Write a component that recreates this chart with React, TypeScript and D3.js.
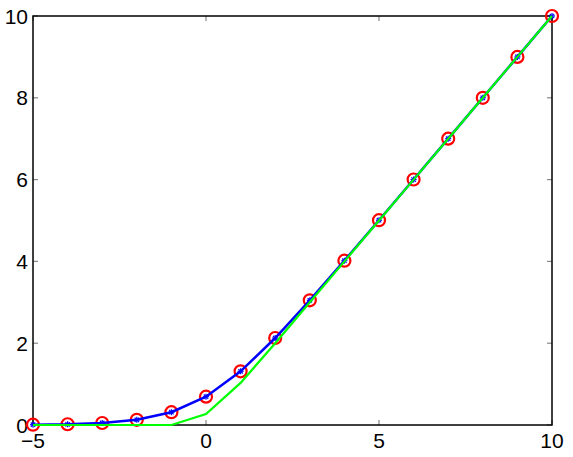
import React from "react";
import * as d3 from "d3";

const xs = [-5, -4, -3, -2, -1, 0, 1, 2, 3, 4, 5, 6, 7, 8, 9, 10];
const softValues = [0.007, 0.018, 0.049, 0.127, 0.313, 0.693, 1.313, 2.127, 3.049, 4.018, 5.007, 6.002, 7.001, 8.0, 9.0, 10.0];
const reluValues = [0, 0, 0, 0, 0, 0.27, 1.03, 2.0, 3.0, 4.0, 5.0, 6.0, 7.0, 8.0, 9.0, 10.0];
const xTicks = [-5, 0, 5, 10];
const yTicks = [0, 2, 4, 6, 8, 10];

const W = 573, H = 457;
const M = { left: 33, right: 21, top: 16, bottom: 32 };

export default function App() {
  const x = d3.scaleLinear().domain([-5, 10]).range([M.left, W - M.right]);
  const y = d3.scaleLinear().domain([0, 10]).range([H - M.bottom, M.top]);
  const line = d3.line<[number, number]>().x(d => x(d[0])).y(d => y(d[1]));
  const soft: [number, number][] = xs.map((v, i) => [v, softValues[i]]);
  const relu: [number, number][] = xs.map((v, i) => [v, reluValues[i]]);
  const x0 = x(-5), x1 = x(10), y0 = y(0), y1 = y(10);
  const tl = 5;
  const font = "Liberation Sans, Arial, sans-serif";
  return (
    <svg width={W} height={H} style={{ position: "absolute", left: 0, top: 0, background: "#fff" }}>
      {xTicks.map(t => (
        <g key={"xt" + t}>
          <line x1={x(t)} x2={x(t)} y1={y0} y2={y0 - tl} stroke="#888" strokeWidth={1.2} />
          <line x1={x(t)} x2={x(t)} y1={y1} y2={y1 + tl} stroke="#888" strokeWidth={1.2} />
          <text x={x(t)} y={y0 + 23} textAnchor="middle" fontFamily={font} fontSize={21} fill="#000">
            {t < 0 ? "\u2212" + Math.abs(t) : t}
          </text>
        </g>
      ))}
      {yTicks.map(t => (
        <g key={"yt" + t}>
          <line x1={x0} x2={x0 + tl} y1={y(t)} y2={y(t)} stroke="#888" strokeWidth={1.2} />
          <line x1={x1} x2={x1 - tl} y1={y(t)} y2={y(t)} stroke="#888" strokeWidth={1.2} />
          <text x={x0 - 5} y={y(t) + 7.5} textAnchor="end" fontFamily={font} fontSize={21} fill="#000">
            {t}
          </text>
        </g>
      ))}
      <rect x={x0} y={y1} width={x1 - x0} height={y0 - y1} fill="none" stroke="#000" strokeWidth={1.5} />
      {soft.map((d, i) => (
        <circle key={"c" + i} cx={x(d[0])} cy={y(d[1])} r={6} fill="none" stroke="#ff0000" strokeWidth={2.2} />
      ))}
      <path d={line(soft) || ""} fill="none" stroke="#0000ff" strokeWidth={2.5} />
      {soft.map((d, i) => (
        <g key={"s" + i} stroke="#0000ff" strokeWidth={1.2}>
          <line x1={x(d[0]) - 3} x2={x(d[0]) + 3} y1={y(d[1])} y2={y(d[1])} />
          <line x1={x(d[0])} x2={x(d[0])} y1={y(d[1]) - 3} y2={y(d[1]) + 3} />
          <line x1={x(d[0]) - 2.2} x2={x(d[0]) + 2.2} y1={y(d[1]) - 2.2} y2={y(d[1]) + 2.2} />
          <line x1={x(d[0]) - 2.2} x2={x(d[0]) + 2.2} y1={y(d[1]) + 2.2} y2={y(d[1]) - 2.2} />
        </g>
      ))}
      <path d={line(relu) || ""} fill="none" stroke="#00ff00" strokeWidth={2.2} />
    </svg>
  );
}
